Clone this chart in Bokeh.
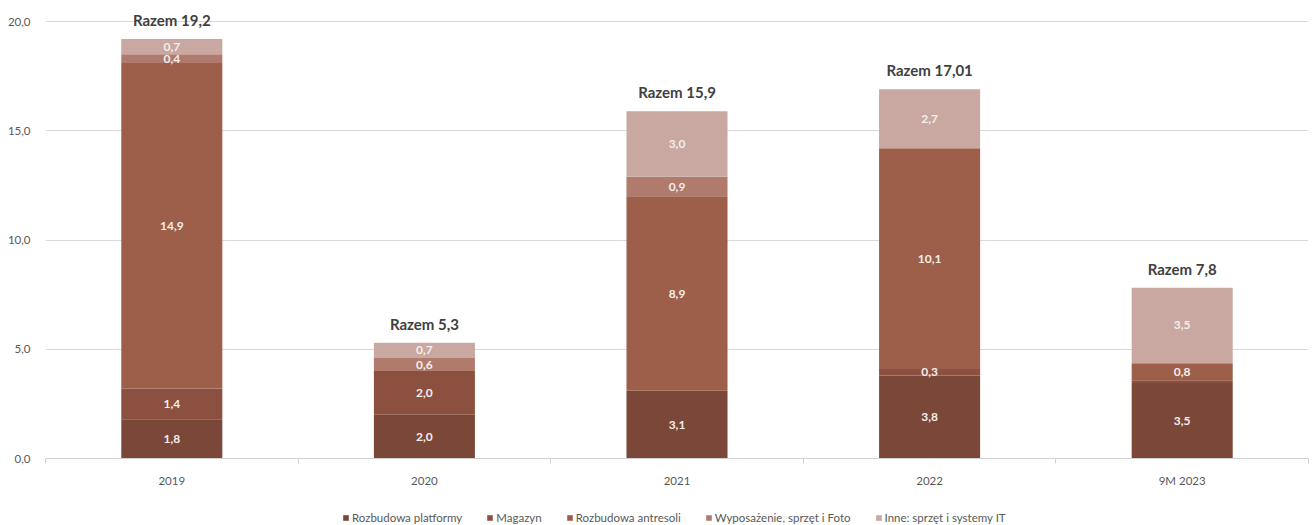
from bokeh.plotting import figure
from bokeh.models import ColumnDataSource, FixedTicker, Legend, LegendItem, Range1d
from bokeh.layouts import column
from bokeh.core.properties import value
from bokeh.embed import file_html
from bokeh.resources import INLINE

categories = ["2019", "2020", "2021", "2022", "9M 2023"]
series_names = ["Rozbudowa platformy", "Magazyn", "Rozbudowa antresoli",
                "Wyposażenie, sprzęt i Foto", "Inne: sprzęt i systemy IT"]
platforma = [1.8, 2.0, 3.1, 3.8, 3.46]
magazyn = [1.4, 2.0, 0.0, 0.3, 0.12]
antresola = [14.9, 0.0, 8.9, 10.1, 0.78]
wyposazenie = [0.4, 0.6, 0.9, 0.0, 0.0]
inne = [0.7, 0.7, 3.0, 2.7, 3.46]
totals = [19.2, 5.3, 15.9, 17.01, 7.8]
y_ticks = [0, 5, 10, 15, 20]
y_tick_labels = ["0,0", "5,0", "10,0", "15,0", "20,0"]

colors = ["#7B4738", "#8B5040", "#9D5F4A", "#B07A6C", "#C8A8A0"]
FONT = "Lato"

series = [platforma, magazyn, antresola, wyposazenie, inne]
keys = ["s0", "s1", "s2", "s3", "s4"]
xs = [i + 0.5 for i in range(len(categories))]

data = {"x": xs}
for k, s in zip(keys, series):
    data[k] = s
source = ColumnDataSource(data)

p = figure(frame_width=1263, frame_height=450, output_backend="svg", toolbar_location=None,
           x_range=Range1d(0, len(categories)), y_range=Range1d(0, 20.6),
           min_border_left=45, min_border_right=8, min_border_top=8,
           min_border_bottom=30,
           outline_line_color=None)
p.background_fill_color = "white"

renderers = p.vbar_stack(keys, x="x", width=0.4, color=colors, source=source,
                         line_color=None)

# segment labels
lx, ly, lt = [], [], []
for i in range(len(categories)):
    cum = 0.0
    for s in series:
        v = s[i]
        if v >= 0.2:
            lx.append(xs[i])
            ly.append(cum + v / 2)
            lt.append(f"{v:.1f}".replace(".", ","))
        cum += v
p.text(x=lx, y=ly, text=lt, text_align="center", text_baseline="middle",
       text_font=value(FONT), text_font_style="bold", text_font_size="12px",
       text_color="#F4EEEC")

# totals
tops = [sum(s[i] for s in series) for i in range(len(categories))]
tt = ["Razem " + f"{t}".replace(".", ",") for t in totals]
p.text(x=xs, y=tops, text=tt, text_align="center", text_baseline="bottom",
       y_offset=-10, text_font=value(FONT), text_font_style="bold",
       text_font_size="15px", text_color="#404040")

# axes
p.yaxis.ticker = FixedTicker(ticks=y_ticks)
p.yaxis.major_label_overrides = {t: l for t, l in zip(y_ticks, y_tick_labels)}
p.yaxis.axis_line_color = None
p.yaxis.major_tick_line_color = None
p.yaxis.minor_tick_line_color = None
p.yaxis.major_label_standoff = 9
p.yaxis.major_label_text_font = FONT
p.yaxis.major_label_text_font_size = "11.5px"
p.yaxis.major_label_text_color = "#595959"

p.xaxis.ticker = FixedTicker(ticks=xs, minor_ticks=list(range(len(categories) + 1)))
p.xaxis.major_label_overrides = {x: c for x, c in zip(xs, categories)}
p.xaxis.axis_line_color = "#D0D0D0"
p.xaxis.major_tick_line_color = None
p.xaxis.minor_tick_line_color = "#D0D0D0"
p.xaxis.minor_tick_out = 5
p.xaxis.minor_tick_in = 0
p.xaxis.major_label_standoff = 9
p.xaxis.major_label_text_font = FONT
p.xaxis.major_label_text_font_size = "11.5px"
p.xaxis.major_label_text_color = "#595959"

p.xgrid.grid_line_color = None
p.ygrid.ticker = FixedTicker(ticks=y_ticks)
p.ygrid.grid_line_color = "#D9D9D9"

# legend strip: zero-height swatch renderers (one per series) feed the legend
lp = figure(width=1316, height=37, output_backend="svg", toolbar_location=None,
            x_range=Range1d(0, 1), y_range=Range1d(0, 1),
            x_axis_location=None, y_axis_location=None,
            min_border=0, outline_line_color=None)
lp.grid.visible = False
swatches = [lp.vbar(x=[0.5], top=[0], bottom=[0], width=0.0, color=c, line_color=None)
            for c in colors]
items = [LegendItem(label=n, renderers=[r]) for n, r in zip(series_names, swatches)]
legend = Legend(items=items, orientation="horizontal", location=(297, 2),
                glyph_width=7, glyph_height=7, label_standoff=3, spacing=24,
                label_text_font=FONT, label_text_font_size="11.5px",
                label_text_color="#595959", border_line_color=None,
                background_fill_alpha=0, margin=0, padding=0)
lp.add_layout(legend, "center")

layout = column(p, lp, spacing=0)
open("out.html", "w").write(file_html(layout, INLINE))
